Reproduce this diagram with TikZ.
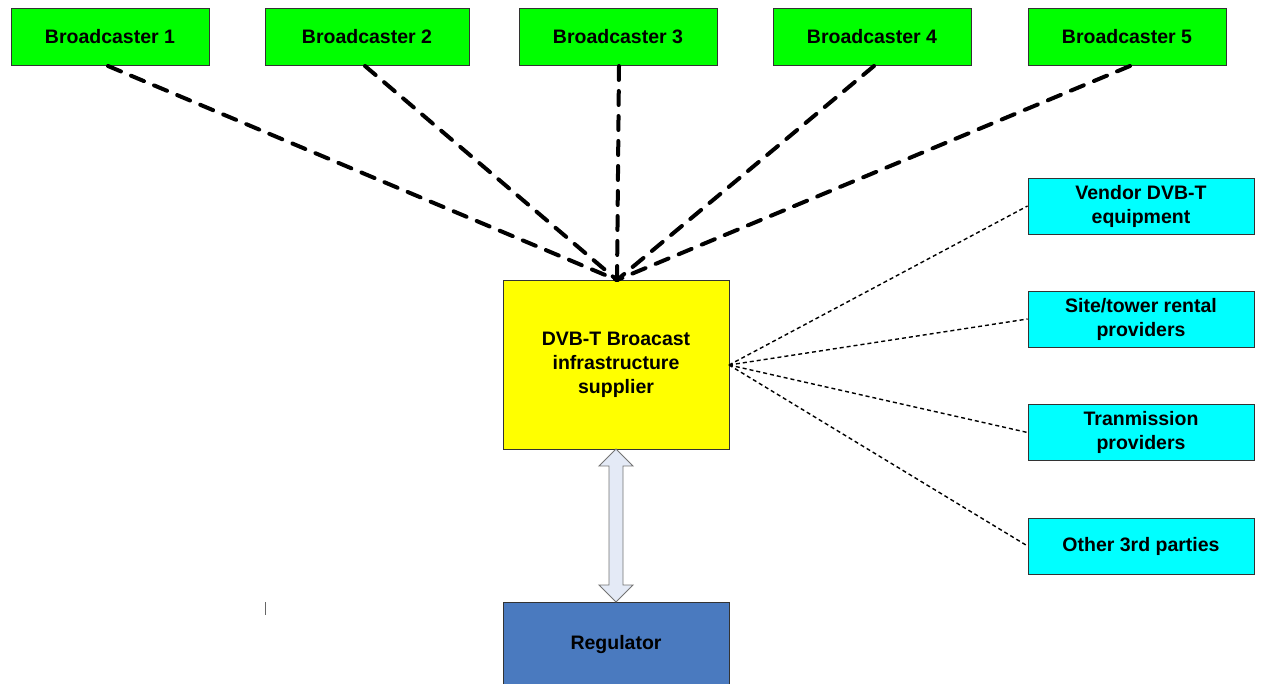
\documentclass[tikz,border=0pt]{standalone}
\usepackage{fontspec}
\setmainfont{Liberation Sans}
\definecolor{bgreen}{RGB}{0,255,0}
\definecolor{bcyan}{RGB}{0,255,255}
\definecolor{byellow}{RGB}{255,255,0}
\definecolor{bblue}{RGB}{74,122,191}
\definecolor{arrfill}{RGB}{228,234,246}
\begin{document}
\begin{tikzpicture}[x=1pt,y=-1pt,
  box/.style={draw=black!80, line width=0.9pt, inner sep=0pt, align=center,
    font=\fontsize{19.5}{24}\selectfont\bfseries},
  bcast/.style={box, fill=bgreen, minimum width=198pt, minimum height=57pt},
  third/.style={box, fill=bcyan, minimum width=226pt, minimum height=56pt},
  thickdash/.style={line width=4pt, dash pattern=on 14pt off 11pt, line cap=round},
  thindash/.style={line width=1.4pt, dash pattern=on 4pt off 3pt}]
\useasboundingbox (0,0) rectangle (1262,684);
\clip (0,0) rectangle (1262,684);
\node[bcast] (b1) at (110,37) {Broadcaster 1};
\node[bcast, minimum width=204pt] (b2) at (367,37) {Broadcaster 2};
\node[bcast] (b3) at (618,37) {Broadcaster 3};
\node[bcast] (b4) at (872,37) {Broadcaster 4};
\node[bcast] (b5) at (1127,37) {Broadcaster 5};
\node[box, fill=byellow, minimum width=226pt, minimum height=169pt] (sup) at (616,364.5)
  {DVB-T Broacast\\infrastructure\\supplier};
\node[third] (v1) at (1141,206) {Vendor DVB-T\\equipment};
\node[third] (v2) at (1141,319) {Site/tower rental\\providers};
\node[third] (v3) at (1141,432.5) {Tranmission\\providers};
\node[third] (v4) at (1141,546) {Other 3rd parties};
\node[box, fill=bblue, minimum width=226pt, minimum height=120pt,
  anchor=north] (reg) at (616,602) {};
\node[font=\fontsize{19.5}{24}\selectfont\bfseries] (regt) at (616,645) {Regulator};
\coordinate (top) at (617,280);
\coordinate (e1) at (108,66);
\coordinate (e2) at (365,66);
\coordinate (e3) at (619,66);
\coordinate (e4) at (874,66);
\coordinate (e5) at (1130,66);
\foreach \i in {1,...,5} \draw[thickdash] (e\i) -- (top);
\coordinate (mid) at (729,365);
\foreach \i in {1,...,4} \draw[thindash] (mid) -- (v\i.west);
\draw[draw=black!55, line width=0.9pt, fill=arrfill]
  (616,449) -- (633,466) -- (623,466) -- (623,585) -- (633,585) -- (616,602)
  -- (599,585) -- (609,585) -- (609,466) -- (599,466) -- cycle;
\draw[draw=black!60, line width=1.2pt] (265.5,602) -- (265.5,615);
\end{tikzpicture}
\end{document}
